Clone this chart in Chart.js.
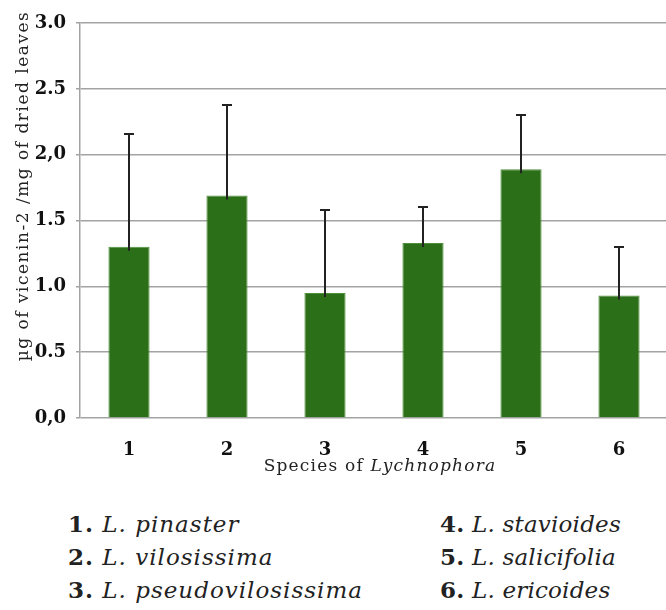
<!DOCTYPE html>
<html>
<head>
<meta charset="utf-8">
<script src="https://cdn.jsdelivr.net/npm/chart.js@4.4.1/dist/chart.umd.min.js"></script>
<style>
  html, body { margin: 0; padding: 0; background: #fff; width: 666px; height: 610px; overflow: hidden; }
  #wrap { position: absolute; left: 0; top: 0; width: 668px; height: 490px; }
  .leg { position: absolute; font-family: "DejaVu Serif", serif; font-size: 23px; color: #222; white-space: nowrap; line-height: 24px; letter-spacing: 1px; }
  .leg b { font-weight: bold; }
  .leg i { font-style: italic; font-weight: normal; }
</style>
</head>
<body>
<div id="wrap"><canvas id="c" width="668" height="490"></canvas></div>
<div id="legend"></div>
<script>
// ---- data ----
const categories = ['1', '2', '3', '4', '5', '6'];
const means = [1.30, 1.69, 0.95, 1.33, 1.89, 0.93];
const sdUpper = [0.86, 0.69, 0.63, 0.27, 0.41, 0.37];
const yTickValues = [0, 0.5, 1.0, 1.5, 2.0, 2.5, 3.0];
const yTickLabels = ['0,0', '0.5', '1.0', '1.5', '2,0', '2.5', '3.0'];
const speciesNames = ['L. pinaster', 'L. vilosissima', 'L. pseudovilosissima', 'L. stavioides', 'L. salicifolia', 'L. ericoides'];
const yTitle = 'µg of vicenin-2 /mg of dried leaves';
const xTitlePlain = 'Species of ';
const xTitleItalic = 'Lychnophora';

// legend (HTML text)
const legend = document.getElementById('legend');
speciesNames.forEach((n, i) => {
  const d = document.createElement('div');
  d.className = 'leg';
  const col = Math.floor(i / 3), row = i % 3;
  d.style.left = (col === 0 ? 68 : 440) + 'px';
  d.style.top = (512 + row * 33) + 'px';
  if (col === 1) d.style.letterSpacing = '0.2px';
  d.innerHTML = '<b>' + categories[i] + '.</b> <i>' + n + '</i>';
  legend.appendChild(d);
});

const errorBars = {
  id: 'errorBars',
  afterDatasetsDraw(chart) {
    const ctx = chart.ctx;
    const meta = chart.getDatasetMeta(0);
    const ys = chart.scales.y;
    ctx.save();
    ctx.strokeStyle = '#222';
    ctx.lineWidth = 2;
    meta.data.forEach((bar, i) => {
      const x = Math.round(bar.x);
      const y0 = ys.getPixelForValue(means[i]) + 4;
      const y1 = Math.round(ys.getPixelForValue(means[i] + sdUpper[i]));
      ctx.beginPath();
      ctx.moveTo(x, y0);
      ctx.lineTo(x, y1);
      ctx.moveTo(x - 5, y1);
      ctx.lineTo(x + 5, y1);
      ctx.stroke();
    });
    ctx.restore();
  }
};

const titles = {
  id: 'titles',
  afterDraw(chart) {
    const ctx = chart.ctx;
    ctx.save();
    ctx.fillStyle = '#222';
    // y title
    ctx.font = '17px "DejaVu Serif", serif';
    ctx.letterSpacing = '1.5px';
    ctx.translate(24, 186);
    ctx.rotate(-Math.PI / 2);
    ctx.textAlign = 'center';
    ctx.textBaseline = 'middle';
    ctx.fillText(yTitle, 0, 0);
    ctx.restore();
    // x title
    ctx.save();
    ctx.fillStyle = '#222';
    ctx.textBaseline = 'middle';
    ctx.letterSpacing = '1.2px';
    ctx.font = '17px "DejaVu Serif", serif';
    const w1 = ctx.measureText(xTitlePlain).width;
    ctx.font = 'italic 17px "DejaVu Serif", serif';
    const w2 = ctx.measureText(xTitleItalic).width;
    let x = 380 - (w1 + w2) / 2;
    ctx.font = '17px "DejaVu Serif", serif';
    ctx.fillText(xTitlePlain, x, 467);
    ctx.font = 'italic 17px "DejaVu Serif", serif';
    ctx.fillText(xTitleItalic, x + w1, 467);
    ctx.restore();
  }
};

new Chart(document.getElementById('c'), {
  type: 'bar',
  data: {
    labels: categories,
    datasets: [{
      data: means,
      backgroundColor: '#2b6f18',
      borderColor: '#4f8f3a',
      borderWidth: 1,
      barPercentage: 0.42,
      categoryPercentage: 1.0
    }]
  },
  options: {
    responsive: false,
    animation: false,
    events: [],
    layout: { padding: { top: 23, right: 0, bottom: 0, left: 0 } },
    plugins: { legend: { display: false }, tooltip: { enabled: false } },
    scales: {
      x: {
        grid: { display: false },
        border: { display: false },
        ticks: {
          color: '#111',
          font: { family: '"DejaVu Serif", serif', size: 18, weight: 'bold' },
          padding: 14,
          maxRotation: 0
        },
        afterFit(s) { s.height = 72; }
      },
      y: {
        min: 0,
        max: 3,
        afterBuildTicks(s) { s.ticks = yTickValues.map(v => ({ value: v })); },
        grid: { color: '#a3a3a3', lineWidth: 1.5, tickLength: 4 },
        border: { display: true, color: '#a3a3a3', width: 1.5 },
        ticks: {
          color: '#111',
          font: { family: '"DejaVu Serif", serif', size: 18, weight: 'bold' },
          padding: 10,
          callback(v, i) { return yTickLabels[i]; }
        },
        afterFit(s) { s.width = 80; }
      }
    }
  },
  plugins: [errorBars, titles]
});
</script>
</body>
</html>
